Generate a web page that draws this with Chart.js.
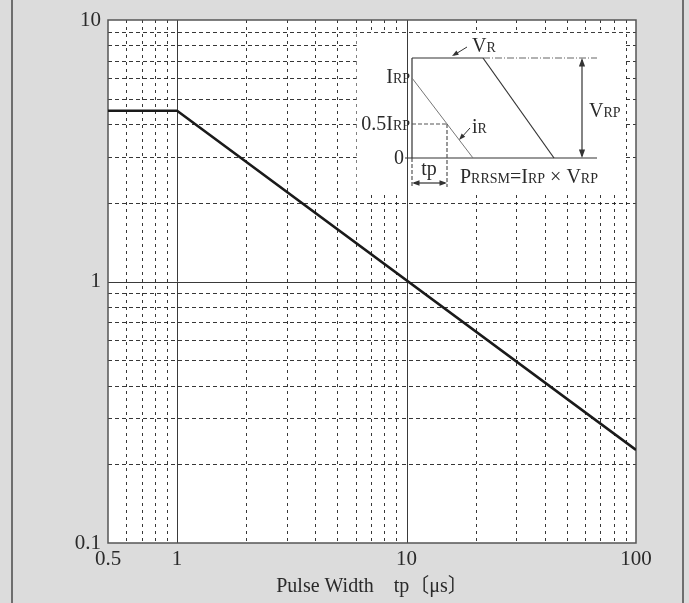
<!DOCTYPE html>
<html>
<head>
<meta charset="utf-8">
<script src="https://cdn.jsdelivr.net/npm/chart.js@4.4.1/dist/chart.umd.min.js"></script>
<style>
  html, body { margin: 0; padding: 0; background: #dcdcdc; }
  #wrap { width: 689px; height: 603px; position: relative; }
</style>
</head>
<body>
<div id="wrap"><canvas id="c" width="689" height="603"></canvas></div>
<script>
// ---- data ----
const pulseWidth = [0.5, 1, 100];          // tp (µs)
const powerRatio = [4.5, 4.5, 0.227];       // relative PRRSM
const xTickLabels = [0.5, 1, 10, 100];
const yTickLabels = [0.1, 1, 10];
const xMajorGrid = [1, 10];
const yMajorGrid = [1];
const xMinorGrid = [0.6, 0.7, 0.8, 0.9, 2, 3, 4, 5, 6, 7, 8, 9, 20, 30, 40, 50, 60, 70, 80, 90];
const yMinorGrid = [0.2, 0.3, 0.4, 0.5, 0.6, 0.7, 0.8, 0.9, 2, 3, 4, 5, 6, 7, 8, 9];
const xTitle = 'Pulse Width\u3000tp\u3014\u03bcs\u3015';

const SERIF = "'Liberation Serif', 'DejaVu Serif', 'Noto Sans CJK JP', serif";

const bgPlugin = {
  id: 'bg',
  beforeDraw(chart) {
    const { ctx, chartArea: a, width, height } = chart;
    ctx.save();
    ctx.fillStyle = '#dcdcdc';
    ctx.fillRect(0, 0, width, height);
    ctx.strokeStyle = '#6e6e6e';
    ctx.lineWidth = 2;
    ctx.beginPath();
    ctx.moveTo(12, 0); ctx.lineTo(12, height);
    ctx.moveTo(683, 0); ctx.lineTo(683, height);
    ctx.stroke();
    ctx.fillStyle = '#ffffff';
    ctx.fillRect(a.left, a.top, a.right - a.left, a.bottom - a.top);
    ctx.restore();
  },
  beforeDatasetsDraw(chart) {
    const { ctx, chartArea: a, scales } = chart;
    const xs = scales.x, ys = scales.y;
    ctx.save();
    ctx.lineWidth = 1;
    // minor grid
    ctx.strokeStyle = 'rgba(20,20,20,0.85)';
    ctx.setLineDash([3, 4]);
    ctx.beginPath();
    xMinorGrid.forEach(v => { const x = Math.round(xs.getPixelForValue(v)) + 0.5; ctx.moveTo(x, a.top); ctx.lineTo(x, a.bottom); });
    ctx.stroke();
    ctx.setLineDash([4, 3]);
    ctx.beginPath();
    yMinorGrid.forEach(v => { const y = Math.round(ys.getPixelForValue(v)) + 0.5; ctx.moveTo(a.left, y); ctx.lineTo(a.right, y); });
    ctx.stroke();
    // inset white box (hides grid)
    const bx1 = xs.getPixelForValue(6), bx2 = xs.getPixelForValue(90);
    const by1 = ys.getPixelForValue(9), by2 = ys.getPixelForValue(2.2);
    ctx.fillStyle = '#ffffff';
    ctx.fillRect(bx1 + 1, by1 + 1, bx2 - bx1 - 2, by2 - by1);
    // major grid
    ctx.setLineDash([]);
    ctx.strokeStyle = '#3a3a3a';
    ctx.beginPath();
    xMajorGrid.forEach(v => { const x = Math.round(xs.getPixelForValue(v)) + 0.5; ctx.moveTo(x, a.top); ctx.lineTo(x, a.bottom); });
    yMajorGrid.forEach(v => { const y = Math.round(ys.getPixelForValue(v)) + 0.5; ctx.moveTo(a.left, y); ctx.lineTo(a.right, y); });
    ctx.stroke();
    // frame
    ctx.strokeStyle = '#555';
    ctx.lineWidth = 1.5;
    ctx.strokeRect(a.left, a.top, a.right - a.left, a.bottom - a.top);
    ctx.restore();
  }
};

function richText(ctx, parts, x, y, align) {
  let w = 0;
  parts.forEach(p => { ctx.font = p[1] + 'px ' + SERIF; w += ctx.measureText(p[0]).width; });
  let cx = align === 'right' ? x - w : (align === 'center' ? x - w / 2 : x);
  ctx.textAlign = 'left';
  ctx.textBaseline = 'alphabetic';
  parts.forEach(p => { ctx.font = p[1] + 'px ' + SERIF; ctx.fillText(p[0], cx, y); cx += ctx.measureText(p[0]).width; });
}
function arrowHead(ctx, x1, y1, x2, y2, len) {
  const ang = Math.atan2(y2 - y1, x2 - x1);
  ctx.beginPath();
  ctx.moveTo(x2, y2);
  ctx.lineTo(x2 - len * Math.cos(ang - 0.35), y2 - len * Math.sin(ang - 0.35));
  ctx.lineTo(x2 - len * Math.cos(ang + 0.35), y2 - len * Math.sin(ang + 0.35));
  ctx.closePath();
  ctx.fill();
}

const insetPlugin = {
  id: 'inset',
  afterDatasetsDraw(chart) {
    const { ctx, chartArea: a } = chart;
    const ox = a.left, oy = a.top;
    const P = (dx, dy) => [ox + dx, oy + dy];
    ctx.save();
    ctx.lineWidth = 1.2;
    ctx.strokeStyle = '#333';
    ctx.fillStyle = '#333';
    const line = (p1, p2, dash, color, w) => {
      ctx.save();
      ctx.setLineDash(dash || []);
      if (color) ctx.strokeStyle = color;
      if (w) ctx.lineWidth = w;
      ctx.beginPath(); ctx.moveTo(p1[0], p1[1]); ctx.lineTo(p2[0], p2[1]); ctx.stroke();
      ctx.restore();
    };
    // waveform
    line(P(304, 38), P(375, 38));
    line(P(375, 38), P(489, 38), [7, 2, 1, 2], '#666');
    line(P(304, 38), P(304, 138));
    line(P(304, 138), P(304, 167), [4, 2], '#555');
    line(P(375, 38), P(446, 138));
    line(P(297, 138), P(489, 138));
    line(P(304, 58), P(365, 138), [], '#777', 1);
    line(P(304, 104), P(339, 104), [4, 2], '#555');
    line(P(339, 104), P(339, 167), [4, 2], '#555');
    // tp arrow
    line(P(306, 163), P(337, 163));
    arrowHead(ctx, ox + 320, oy + 163, ox + 304, oy + 163, 8);
    arrowHead(ctx, ox + 320, oy + 163, ox + 339, oy + 163, 8);
    // VRP arrow
    line(P(474, 40), P(474, 136));
    arrowHead(ctx, ox + 474, oy + 80, ox + 474, oy + 38, 9);
    arrowHead(ctx, ox + 474, oy + 100, ox + 474, oy + 138, 9);
    // pointer arrows
    line(P(359, 27), P(346, 35), [], '#333', 1);
    arrowHead(ctx, ox + 359, oy + 27, ox + 344, oy + 36, 7);
    line(P(362, 108), P(353, 118), [], '#333', 1);
    arrowHead(ctx, ox + 362, oy + 108, ox + 351, oy + 120, 7);
    // texts
    ctx.fillStyle = '#2a2a2a';
    richText(ctx, [['V', 20], ['R', 14]], ox + 364, oy + 32, 'left');
    richText(ctx, [['I', 20], ['RP', 14]], ox + 302, oy + 63, 'right');
    richText(ctx, [['0.5I', 20], ['RP', 14]], ox + 302, oy + 110, 'right');
    richText(ctx, [['0', 20]], ox + 296, oy + 144, 'right');
    richText(ctx, [['i', 20], ['R', 14]], ox + 364, oy + 113, 'left');
    richText(ctx, [['tp', 20]], ox + 321, oy + 155, 'center');
    richText(ctx, [['V', 20], ['RP', 14]], ox + 481, oy + 97, 'left');
    richText(ctx, [['P', 20], ['RRSM', 14], ['=I', 20], ['RP', 14], [' \u00d7 V', 20], ['RP', 14]], ox + 352, oy + 163, 'left');
    ctx.restore();
  }
};

new Chart(document.getElementById('c'), {
  type: 'line',
  data: {
    datasets: [{
      data: pulseWidth.map((x, i) => ({ x, y: powerRatio[i] })),
      borderColor: '#1a1a1a',
      borderWidth: 2.6,
      pointRadius: 0,
      tension: 0,
      fill: false
    }]
  },
  options: {
    responsive: false,
    animation: false,
    devicePixelRatio: 1,
    layout: { padding: { left: 0, top: 20, right: 53, bottom: 0 } },
    plugins: { legend: { display: false }, tooltip: { enabled: false } },
    scales: {
      x: {
        type: 'logarithmic',
        min: 0.5, max: 100,
        afterBuildTicks: s => { s.ticks = xTickLabels.map(v => ({ value: v })); },
        afterFit: s => { s.height = 60; },
        grid: { display: false, drawTicks: false },
        border: { display: false },
        ticks: {
          autoSkip: false, maxRotation: 0, padding: 4,
          color: '#2a2a2a', font: { family: SERIF, size: 21 },
          callback: v => String(v)
        },
        title: { display: true, text: xTitle, color: '#2a2a2a', font: { family: SERIF, size: 20 }, padding: { top: 0, bottom: 4 } }
      },
      y: {
        type: 'logarithmic',
        min: 0.1, max: 10,
        afterBuildTicks: s => { s.ticks = yTickLabels.map(v => ({ value: v })); },
        afterFit: s => { s.width = 108; },
        grid: { display: false, drawTicks: false },
        border: { display: false },
        ticks: {
          autoSkip: false, padding: 7,
          color: '#2a2a2a', font: { family: SERIF, size: 21 },
          callback: v => String(v)
        }
      }
    }
  },
  plugins: [bgPlugin, insetPlugin]
});
</script>
</body>
</html>
